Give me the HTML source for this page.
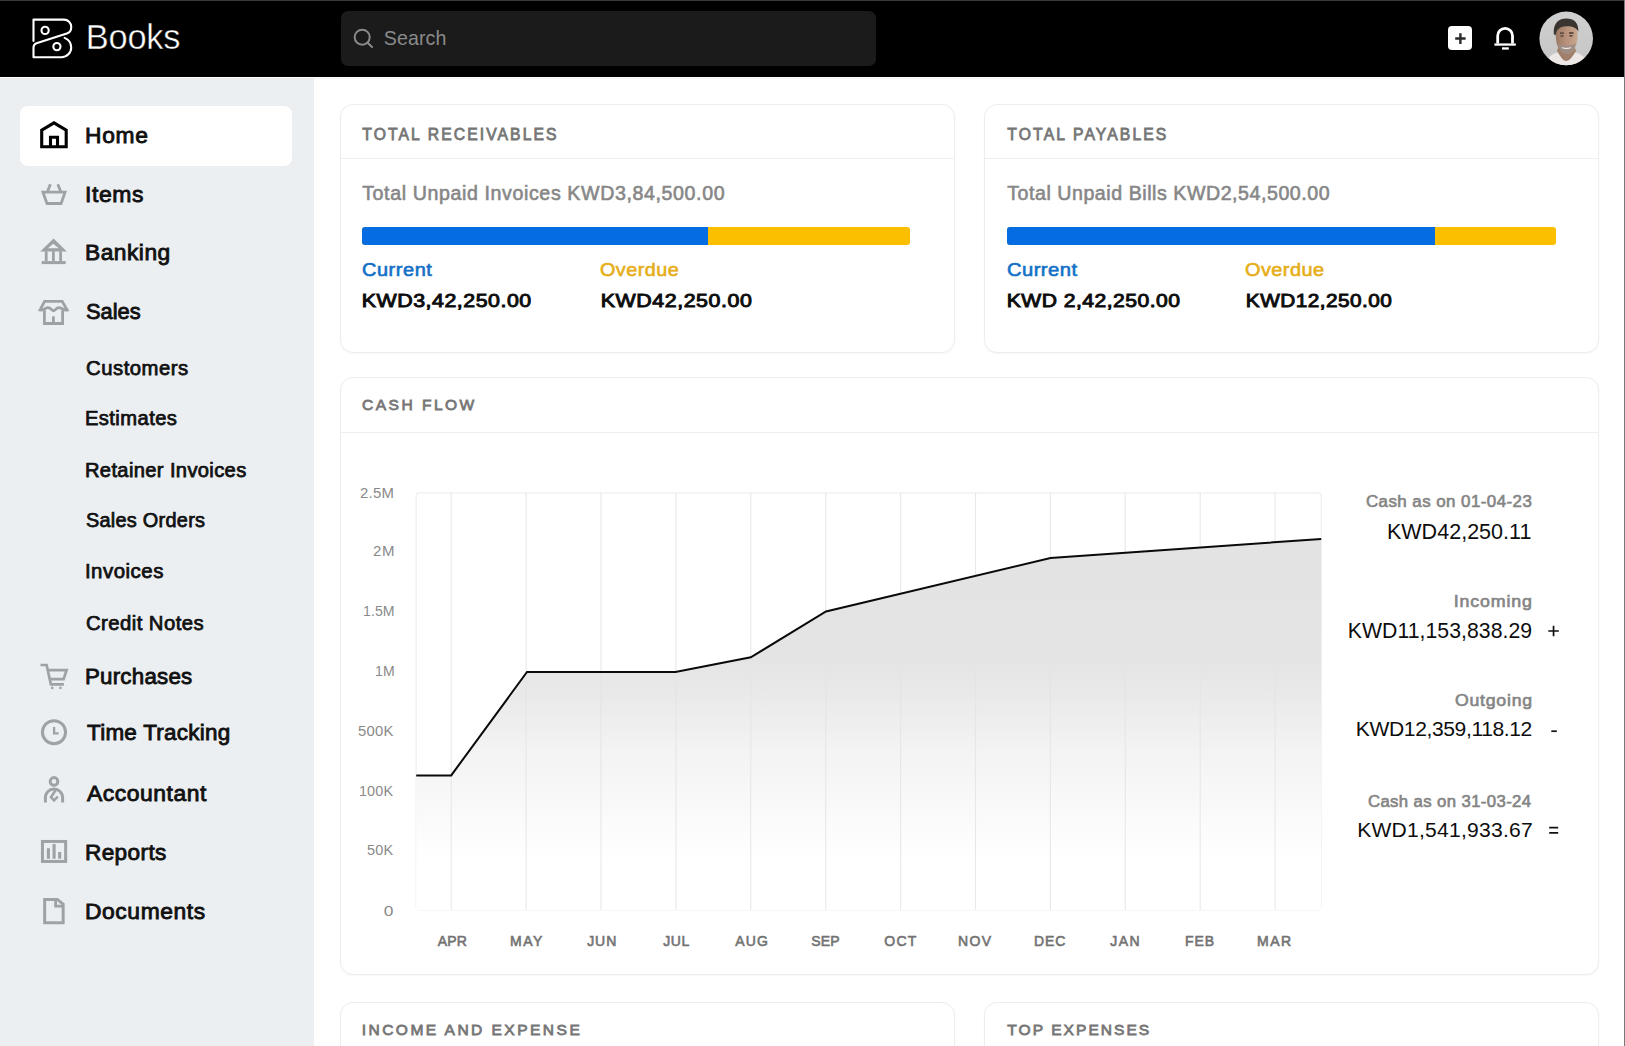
<!DOCTYPE html>
<html><head><meta charset="utf-8"><title>Books</title>
<style>
html,body{margin:0;padding:0;width:1625px;height:1046px;overflow:hidden;background:#fff}
body{position:relative;font-family:"Liberation Sans",sans-serif}
.t{position:absolute;white-space:nowrap;font-family:"Liberation Sans",sans-serif}
</style></head><body>
<div style="position:absolute;left:0px;top:0px;width:1625px;height:1046px;background:#ffffff"></div>
<div style="position:absolute;left:0px;top:77px;width:314.3px;height:969px;background:#eceff1"></div>
<div style="position:absolute;left:0px;top:77px;width:1624px;height:1px;background:#ffffff"></div>
<div style="position:absolute;left:0px;top:78px;width:314.3px;height:1px;background:#e6e8e9"></div>
<div style="position:absolute;left:314.3px;top:78px;width:1309.7px;height:1px;background:#f6f6f6"></div>
<div style="position:absolute;left:0px;top:0px;width:1625px;height:77px;background:#000"></div>
<div style="position:absolute;left:0px;top:0px;width:1625px;height:1px;background:#3a3a3a"></div>
<div style="position:absolute;left:1624px;top:0px;width:1px;height:1046px;background:#7a7a7a"></div>
<svg style="position:absolute;left:0;top:0" width="200" height="77" viewBox="0 0 200 77" fill="none" stroke="#fff" stroke-width="2.1" stroke-linecap="round" stroke-linejoin="round">
<path d="M33.5,41 V19.6 H64 A7.2,7.2 0 0 1 71.2,26.8 V27.5 A6.5,6.5 0 0 1 66.8,33.6 L36.5,43.3 A4.5,4.5 0 0 0 33.5,47.5 V57.2 H61.5 A9.7,9.7 0 0 0 71.2,47.5 A10.5,10.5 0 0 0 64.6,37.9"/>
<circle cx="45.1" cy="30.4" r="3.6"/><circle cx="56.9" cy="46.6" r="3.6"/>
</svg>
<div class="t" style="left:85.86px;top:20px;font-size:34.45px;line-height:34px;font-weight:400;color:#fff;letter-spacing:-0.279px;-webkit-text-stroke:0.45px #000;">Books</div>
<div style="position:absolute;left:340.6px;top:11px;width:535.4px;height:54.7px;background:#1b1b1b;border-radius:7px"></div>
<svg style="position:absolute;left:340px;top:11px" width="60" height="55" viewBox="340 11 60 55" fill="none" stroke="#8a8a8a" stroke-width="2" stroke-linecap="round">
<circle cx="362.2" cy="37.2" r="7.5"/><path d="M367.6,42.8 L372,47"/></svg>
<div class="t" style="left:383.72px;top:29px;font-size:19.62px;line-height:19px;font-weight:400;color:#8a8a8a;letter-spacing:0.111px;">Search</div>
<div style="position:absolute;left:1448.4px;top:26.4px;width:23.799999999999955px;height:24.0px;background:#fff;border-radius:4px"></div>
<svg style="position:absolute;left:1440px;top:18px" width="90" height="40" viewBox="1440 18 90 40" fill="none">
<path d="M1455.2,38.5 H1465.6 M1460.4,33.2 V43.9" stroke="#2a2a2a" stroke-width="2.4"/>
<path d="M1497.7,43.5 V35.8 A7.4,7.4 0 0 1 1512.5,35.8 V43.5" stroke="#fff" stroke-width="2.8"/>
<path d="M1494.4,44.55 H1515.8" stroke="#fff" stroke-width="2.3"/>
<rect x="1502" y="47.3" width="6.8" height="2.3" fill="#fff"/>
</svg>
<svg style="position:absolute;left:1539px;top:11px" width="55" height="55" viewBox="1539 11 55 55">
<defs><clipPath id="av"><circle cx="1566.2" cy="38.4" r="26.8"/></clipPath>
<linearGradient id="avbg" x1="0" y1="0" x2="0" y2="1"><stop offset="0" stop-color="#cfcfcf"/><stop offset="1" stop-color="#c6c6c6"/></linearGradient>
<linearGradient id="skin" x1="0" y1="0" x2="1" y2="0"><stop offset="0" stop-color="#9c7864"/><stop offset="0.5" stop-color="#b8927c"/><stop offset="1" stop-color="#c9a68f"/></linearGradient></defs>
<circle cx="1566.2" cy="38.4" r="26.8" fill="url(#avbg)"/>
<g clip-path="url(#av)">
<path d="M1544,68 C1546,58 1552,53 1560,52 L1573,52 C1581,53 1587,58 1589,68 Z" fill="#ede8e5"/>
<path d="M1557,51 C1560,56 1563,61 1566,61 C1569.5,61 1573,56 1576,51 L1574,45 L1559,45 Z" fill="#a0806b"/>
<path d="M1555.8,35.5 C1555.8,27 1560,23.5 1566.5,23.5 C1573,23.5 1577.6,27 1577.6,35.5 C1577.6,46 1573,53.8 1566.5,53.8 C1560,53.8 1555.8,46 1555.8,35.5 Z" fill="url(#skin)"/>
<path d="M1553.8,34 C1553,23 1559,18.6 1566.2,18.6 C1574,18.6 1579,23 1578.3,32 C1577,28.2 1573,26.3 1566.5,26.3 C1560.2,26.3 1556.5,29 1555.6,35.5 Z" fill="#3b3531"/>
<path d="M1557.5,43 C1559,50.5 1563,53.8 1566.5,53.8 C1570.3,53.8 1574.5,50.2 1576,43 C1573,46.5 1561,46.5 1557.5,43 Z" fill="#9d8d84"/>
<path d="M1560,33.2 H1564 M1569,33 H1573.5" stroke="#4a3a30" stroke-width="1.3"/>
<path d="M1560.5,36 H1563.5 M1569.5,35.8 H1572.5" stroke="#3a2a22" stroke-width="1.2"/>
<path d="M1562,47.5 C1564,48.8 1568.8,48.8 1571,47.5" stroke="#efe7e2" stroke-width="1.3" fill="none"/>
</g></svg>
<div style="position:absolute;left:20.2px;top:105.8px;width:271.8px;height:60.000000000000014px;background:#fff;border-radius:8px"></div>
<svg style="position:absolute;left:0;top:77px" width="314" height="969" viewBox="0 77 314 969" fill="none" stroke-linejoin="miter">
<path d="M41.7,146.8 V130.2 L54,122.8 L66.2,130.2 V146.8 Z M50.5,146.8 V137.3 H57.5 V146.8" stroke="#000" stroke-width="3.1"/>
<g stroke="#9ea2a6" stroke-width="2.8">
<path d="M50.4,184.2 L47.6,191.2 M57.8,184.2 L60.6,191.2 M42.9,192.1 H65.1 L61.1,203.5 H47 Z"/>
<path d="M46.2,251.3 V261 M53.4,251.3 V261 M60.6,251.3 V261"/>
</g>
<path d="M53.6,238.4 L40.2,251.5 H66.8 Z" fill="#9ea2a6"/>
<path d="M53.3,243.8 L47.9,248.3 H58.7 Z" fill="#eceff1"/>
<rect x="41.6" y="261.1" width="24.1" height="3" fill="#9ea2a6"/>
<g stroke="#9ea2a6" stroke-width="2.8">
<path d="M44.4,310.3 V323.5 H62.6 V310.3"/>
<path d="M53.4,316.3 V323"/>
<path d="M44.6,301.3 H62.2 L67.2,310 C63,310.8 62,307.6 59,307.6 C56,307.6 55,310.8 53.5,310.8 C52,310.8 51,307.6 48,307.6 C45,307.6 44,310.8 40,310 Z"/>
</g>
<g stroke="#9ea2a6" stroke-width="2.7">
<path d="M40.5,665 H46.6 L50.9,684.3 H63.9 M48.1,670.2 H66.6 L63.6,679.1 H50"/>
</g>
<circle cx="52.2" cy="687.9" r="1.3" fill="#9ea2a6"/><circle cx="60.4" cy="687.9" r="1.3" fill="#9ea2a6"/>
<circle cx="54" cy="732.2" r="11.55" stroke="#9ea2a6" stroke-width="3"/>
<path d="M54.1,727 V733.3 H58.6" stroke="#9ea2a6" stroke-width="2.3"/>
<circle cx="54" cy="781.4" r="3.8" stroke="#9ea2a6" stroke-width="3"/>
<path d="M45.4,802.6 V797.6 A8.6,8.6 0 0 1 62.6,797.6 V802.6" stroke="#9ea2a6" stroke-width="3"/>
<path d="M55.9,789.8 L51,797.2 L54,800.4 L57.8,796.6" stroke="#9ea2a6" stroke-width="2.5"/>
<rect x="42.45" y="841.45" width="23.2" height="20" stroke="#9ea2a6" stroke-width="3"/>
<path d="M48.4,848.2 V858.7 M54.1,844.1 V858.7 M59.7,851.9 V858.7" stroke="#9ea2a6" stroke-width="3.1"/>
<path d="M44.65,899.45 H57.3 L63.15,904.2 V922.65 H44.65 Z" stroke="#9ea2a6" stroke-width="3"/>
<path d="M55.6,899.5 V906.2 H63" stroke="#9ea2a6" stroke-width="2.8"/>
</svg>
<div class="t" style="left:85.22px;top:125px;font-size:21.90px;line-height:21px;font-weight:400;color:#111;letter-spacing:0.732px;-webkit-text-stroke:0.85px #111;transform:scaleX(1.0404);transform-origin:1.38px 0;">Home</div>
<div class="t" style="left:85.00px;top:184px;font-size:21.90px;line-height:21px;font-weight:400;color:#111;letter-spacing:0.596px;-webkit-text-stroke:0.85px #111;transform:scaleX(1.0484);transform-origin:1.60px 0;">Items</div>
<div class="t" style="left:85.22px;top:242px;font-size:21.90px;line-height:21px;font-weight:400;color:#111;letter-spacing:0.490px;-webkit-text-stroke:0.85px #111;transform:scaleX(1.0398);transform-origin:1.38px 0;">Banking</div>
<div class="t" style="left:86.04px;top:301px;font-size:21.90px;line-height:21px;font-weight:400;color:#111;letter-spacing:-0.013px;-webkit-text-stroke:0.85px #111;transform:scaleX(0.9990);transform-origin:0.56px 0;">Sales</div>
<div class="t" style="left:85.22px;top:666px;font-size:21.90px;line-height:21px;font-weight:400;color:#111;letter-spacing:0.230px;-webkit-text-stroke:0.85px #111;transform:scaleX(1.0184);transform-origin:1.38px 0;">Purchases</div>
<div class="t" style="left:86.53px;top:722px;font-size:21.90px;line-height:21px;font-weight:400;color:#111;letter-spacing:0.267px;-webkit-text-stroke:0.85px #111;transform:scaleX(1.0242);transform-origin:0.07px 0;">Time Tracking</div>
<div class="t" style="left:86.97px;top:783px;font-size:21.90px;line-height:21px;font-weight:400;color:#111;letter-spacing:0.527px;-webkit-text-stroke:0.85px #111;transform:scaleX(1.0450);transform-origin:-0.37px 0;">Accountant</div>
<div class="t" style="left:85.22px;top:842px;font-size:21.90px;line-height:21px;font-weight:400;color:#111;letter-spacing:0.381px;-webkit-text-stroke:0.85px #111;transform:scaleX(1.0315);transform-origin:1.38px 0;">Reports</div>
<div class="t" style="left:85.22px;top:901px;font-size:21.90px;line-height:21px;font-weight:400;color:#111;letter-spacing:0.567px;-webkit-text-stroke:0.85px #111;transform:scaleX(1.0434);transform-origin:1.38px 0;">Documents</div>
<div class="t" style="left:86.00px;top:359px;font-size:19.40px;line-height:19px;font-weight:400;color:#111;letter-spacing:0.508px;-webkit-text-stroke:0.75px #111;transform:scaleX(1.0457);transform-origin:0.59px 0;">Customers</div>
<div class="t" style="left:85.37px;top:409px;font-size:19.40px;line-height:19px;font-weight:400;color:#111;letter-spacing:0.406px;-webkit-text-stroke:0.75px #111;transform:scaleX(1.0404);transform-origin:1.23px 0;">Estimates</div>
<div class="t" style="left:85.37px;top:461px;font-size:19.40px;line-height:19px;font-weight:400;color:#111;letter-spacing:0.344px;-webkit-text-stroke:0.75px #111;transform:scaleX(1.0385);transform-origin:1.23px 0;">Retainer Invoices</div>
<div class="t" style="left:86.10px;top:511px;font-size:19.40px;line-height:19px;font-weight:400;color:#111;letter-spacing:0.257px;-webkit-text-stroke:0.75px #111;transform:scaleX(1.0258);transform-origin:0.50px 0;">Sales Orders</div>
<div class="t" style="left:85.18px;top:562px;font-size:19.40px;line-height:19px;font-weight:400;color:#111;letter-spacing:0.487px;-webkit-text-stroke:0.75px #111;transform:scaleX(1.0517);transform-origin:1.42px 0;">Invoices</div>
<div class="t" style="left:86.00px;top:614px;font-size:19.40px;line-height:19px;font-weight:400;color:#111;letter-spacing:0.429px;-webkit-text-stroke:0.75px #111;transform:scaleX(1.0462);transform-origin:0.59px 0;">Credit Notes</div>
<div style="position:absolute;left:340px;top:104px;width:615px;height:249px;background:#fff;border:1px solid #ededed;border-radius:13px;box-sizing:border-box;box-shadow:0 1px 2.5px rgba(0,0,0,0.035)"></div>
<div style="position:absolute;left:341px;top:157.6px;width:613px;height:1.3000000000000114px;background:#efefef"></div>
<div style="position:absolute;left:984.2px;top:104px;width:614.8px;height:249px;background:#fff;border:1px solid #ededed;border-radius:13px;box-sizing:border-box;box-shadow:0 1px 2.5px rgba(0,0,0,0.035)"></div>
<div style="position:absolute;left:985.2px;top:157.6px;width:612.8px;height:1.3000000000000114px;background:#efefef"></div>
<div class="t" style="left:362.35px;top:127px;font-size:15.70px;line-height:15px;font-weight:400;color:#767676;letter-spacing:2.090px;-webkit-text-stroke:0.8px #767676;">TOTAL RECEIVABLES</div>
<div class="t" style="left:1007.35px;top:127px;font-size:15.70px;line-height:15px;font-weight:400;color:#767676;letter-spacing:2.122px;-webkit-text-stroke:0.8px #767676;">TOTAL PAYABLES</div>
<div class="t" style="left:362.16px;top:184px;font-size:19.60px;line-height:19px;font-weight:400;color:#878787;letter-spacing:0.614px;-webkit-text-stroke:0.6px #878787;">Total Unpaid Invoices KWD3,84,500.00</div>
<div class="t" style="left:1007.16px;top:184px;font-size:19.60px;line-height:19px;font-weight:400;color:#878787;letter-spacing:0.548px;-webkit-text-stroke:0.6px #878787;">Total Unpaid Bills KWD2,54,500.00</div>
<div style="position:absolute;left:362px;top:226.5px;width:548.4px;height:18.19999999999999px;background:#fbbf00;border-radius:3px"></div>
<div style="position:absolute;left:362px;top:226.5px;width:346.4px;height:18.19999999999999px;background:#066ce2;border-radius:3px 0 0 3px"></div>
<div style="position:absolute;left:1007.3px;top:226.5px;width:548.4000000000001px;height:18.19999999999999px;background:#fbbf00;border-radius:3px"></div>
<div style="position:absolute;left:1007.3px;top:226.5px;width:427.5px;height:18.19999999999999px;background:#066ce2;border-radius:3px 0 0 3px"></div>
<div class="t" style="left:361.73px;top:262px;font-size:17.44px;line-height:17px;font-weight:400;color:#1370c6;letter-spacing:0.514px;-webkit-text-stroke:0.6px #1370c6;transform:scaleX(1.1422);transform-origin:0.57px 0;">Current</div>
<div class="t" style="left:600.15px;top:262px;font-size:17.88px;line-height:17px;font-weight:400;color:#e6ae19;letter-spacing:0.463px;-webkit-text-stroke:0.6px #e6ae19;transform:scaleX(1.1062);transform-origin:0.55px 0;">Overdue</div>
<div class="t" style="left:1006.69px;top:261px;font-size:18.17px;line-height:18px;font-weight:400;color:#1370c6;letter-spacing:0.430px;-webkit-text-stroke:0.6px #1370c6;transform:scaleX(1.1112);transform-origin:0.61px 0;">Current</div>
<div class="t" style="left:1245.04px;top:261px;font-size:18.17px;line-height:18px;font-weight:400;color:#e6ae19;letter-spacing:0.427px;-webkit-text-stroke:0.6px #e6ae19;transform:scaleX(1.0954);transform-origin:0.56px 0;">Overdue</div>
<div class="t" style="left:362.00px;top:293px;font-size:17.60px;line-height:17px;font-weight:400;color:#0c0c0c;letter-spacing:0.447px;-webkit-text-stroke:0.9px #0c0c0c;transform:scaleX(1.2120);transform-origin:1.00px 0;">KWD3,42,250.00</div>
<div class="t" style="left:601.20px;top:293px;font-size:17.60px;line-height:17px;font-weight:400;color:#0c0c0c;letter-spacing:0.471px;-webkit-text-stroke:0.9px #0c0c0c;transform:scaleX(1.2126);transform-origin:1.00px 0;">KWD42,250.00</div>
<div class="t" style="left:1006.80px;top:293px;font-size:17.60px;line-height:17px;font-weight:400;color:#0c0c0c;letter-spacing:0.407px;-webkit-text-stroke:0.9px #0c0c0c;transform:scaleX(1.1981);transform-origin:1.00px 0;">KWD 2,42,250.00</div>
<div class="t" style="left:1246.30px;top:293px;font-size:17.60px;line-height:17px;font-weight:400;color:#0c0c0c;letter-spacing:0.407px;-webkit-text-stroke:0.9px #0c0c0c;transform:scaleX(1.1787);transform-origin:1.00px 0;">KWD12,250.00</div>
<div style="position:absolute;left:340px;top:377px;width:1259px;height:598px;background:#fff;border:1px solid #ededed;border-radius:13px;box-sizing:border-box;box-shadow:0 1px 2.5px rgba(0,0,0,0.035)"></div>
<div style="position:absolute;left:341px;top:431.5px;width:1257px;height:1.3000000000000114px;background:#efefef"></div>
<div class="t" style="left:362.02px;top:397px;font-size:15.55px;line-height:15px;font-weight:400;color:#767676;letter-spacing:2.475px;-webkit-text-stroke:0.8px #767676;">CASH FLOW</div>
<svg style="position:absolute;left:0;top:0" width="1625" height="1046" viewBox="0 0 1625 1046" fill="none">
<defs><linearGradient id="gf" x1="0" y1="538.9" x2="0" y2="909.9" gradientUnits="userSpaceOnUse">
<stop offset="0" stop-color="#e3e3e3"/><stop offset="0.32" stop-color="#e4e4e4"/><stop offset="0.43" stop-color="#eaeaea"/><stop offset="0.57" stop-color="#f3f3f3"/><stop offset="0.77" stop-color="#fbfbfb"/><stop offset="0.87" stop-color="#ffffff"/></linearGradient></defs>
<rect x="416.2" y="492.8" width="905.0" height="417.09999999999997" rx="3" stroke="#f0f0f0" stroke-width="1.3"/>
<path d="M416.2,775.4 L451.2,775.4 L527.0,672.0 L675.4,672.0 L750.8,657.3 L826.0,611.5 L1050.5,558.1 L1321.2,538.9 L1321.2,909.9 L416.2,909.9 Z" fill="url(#gf)"/>
<g stroke="#e4e4e4" stroke-width="1.1" opacity="0.8"><path d="M451.2,492.8 V909.9"/><path d="M526.1,492.8 V909.9"/><path d="M601.0,492.8 V909.9"/><path d="M675.9,492.8 V909.9"/><path d="M750.8,492.8 V909.9"/><path d="M825.7,492.8 V909.9"/><path d="M900.6,492.8 V909.9"/><path d="M975.5,492.8 V909.9"/><path d="M1050.4,492.8 V909.9"/><path d="M1125.3,492.8 V909.9"/><path d="M1200.2,492.8 V909.9"/><path d="M1275.1,492.8 V909.9"/></g>
<path d="M416.2,775.4 L451.2,775.4 L527.0,672.0 L675.4,672.0 L750.8,657.3 L826.0,611.5 L1050.5,558.1 L1321.2,538.9" stroke="#0a0a0a" stroke-width="2" stroke-linejoin="miter"/>
</svg>
<div class="t" style="left:360.31px;top:487px;font-size:13.90px;line-height:13px;font-weight:400;color:#8a8a8a;letter-spacing:0.284px;transform:scaleX(1.0735);transform-origin:0.70px 0;">2.5M</div>
<div class="t" style="left:372.91px;top:545px;font-size:13.90px;line-height:13px;font-weight:400;color:#8a8a8a;letter-spacing:0.570px;transform:scaleX(1.0825);transform-origin:0.70px 0;">2M</div>
<div class="t" style="left:362.66px;top:605px;font-size:13.90px;line-height:13px;font-weight:400;color:#8a8a8a;letter-spacing:0.068px;transform:scaleX(1.0170);transform-origin:1.04px 0;">1.5M</div>
<div class="t" style="left:374.66px;top:665px;font-size:13.90px;line-height:13px;font-weight:400;color:#8a8a8a;letter-spacing:0.090px;transform:scaleX(1.0124);transform-origin:1.04px 0;">1M</div>
<div class="t" style="left:357.84px;top:725px;font-size:13.90px;line-height:13px;font-weight:400;color:#8a8a8a;letter-spacing:0.279px;transform:scaleX(1.0656);transform-origin:0.56px 0;">500K</div>
<div class="t" style="left:359.26px;top:785px;font-size:13.90px;line-height:13px;font-weight:400;color:#8a8a8a;letter-spacing:0.151px;transform:scaleX(1.0349);transform-origin:1.04px 0;">100K</div>
<div class="t" style="left:367.04px;top:844px;font-size:13.90px;line-height:13px;font-weight:400;color:#8a8a8a;letter-spacing:0.214px;transform:scaleX(1.0434);transform-origin:0.56px 0;">50K</div>
<div class="t" style="left:383.54px;top:905px;font-size:13.90px;line-height:13px;font-weight:400;color:#8a8a8a;letter-spacing:0.000px;transform:scaleX(1.2492);transform-origin:0.56px 0;">0</div>
<div class="t" style="left:437.76px;top:934px;font-size:14.00px;line-height:14px;font-weight:400;color:#737373;letter-spacing:0.198px;-webkit-text-stroke:0.6px #737373;">APR</div>
<div class="t" style="left:510.04px;top:934px;font-size:14.00px;line-height:14px;font-weight:400;color:#737373;letter-spacing:1.538px;-webkit-text-stroke:0.6px #737373;">MAY</div>
<div class="t" style="left:587.19px;top:934px;font-size:14.00px;line-height:14px;font-weight:400;color:#737373;letter-spacing:0.917px;-webkit-text-stroke:0.6px #737373;">JUN</div>
<div class="t" style="left:663.19px;top:934px;font-size:14.00px;line-height:14px;font-weight:400;color:#737373;letter-spacing:0.540px;-webkit-text-stroke:0.6px #737373;">JUL</div>
<div class="t" style="left:735.37px;top:934px;font-size:14.00px;line-height:14px;font-weight:400;color:#737373;letter-spacing:1.120px;-webkit-text-stroke:0.6px #737373;">AUG</div>
<div class="t" style="left:811.17px;top:934px;font-size:14.00px;line-height:14px;font-weight:400;color:#737373;letter-spacing:0.215px;-webkit-text-stroke:0.6px #737373;">SEP</div>
<div class="t" style="left:884.24px;top:934px;font-size:14.00px;line-height:14px;font-weight:400;color:#737373;letter-spacing:1.270px;-webkit-text-stroke:0.6px #737373;">OCT</div>
<div class="t" style="left:957.94px;top:934px;font-size:14.00px;line-height:14px;font-weight:400;color:#737373;letter-spacing:1.440px;-webkit-text-stroke:0.6px #737373;">NOV</div>
<div class="t" style="left:1033.94px;top:934px;font-size:14.00px;line-height:14px;font-weight:400;color:#737373;letter-spacing:0.953px;-webkit-text-stroke:0.6px #737373;">DEC</div>
<div class="t" style="left:1110.19px;top:934px;font-size:14.00px;line-height:14px;font-weight:400;color:#737373;letter-spacing:1.453px;-webkit-text-stroke:0.6px #737373;">JAN</div>
<div class="t" style="left:1185.05px;top:934px;font-size:14.00px;line-height:14px;font-weight:400;color:#737373;letter-spacing:0.880px;-webkit-text-stroke:0.6px #737373;">FEB</div>
<div class="t" style="left:1257.05px;top:934px;font-size:14.00px;line-height:14px;font-weight:400;color:#737373;letter-spacing:1.452px;-webkit-text-stroke:0.6px #737373;">MAR</div>
<div class="t" style="left:1365.82px;top:494px;font-size:15.60px;line-height:15px;font-weight:400;color:#858585;letter-spacing:0.414px;-webkit-text-stroke:0.6px #858585;transform:scaleX(1.0836);transform-origin:0.48px 0;">Cash as on 01-04-23</div>
<div class="t" style="left:1386.93px;top:522px;font-size:21.51px;line-height:21px;font-weight:400;color:#0d0d0d;letter-spacing:0.028px;">KWD42,250.11</div>
<div class="t" style="left:1453.86px;top:594px;font-size:15.60px;line-height:15px;font-weight:400;color:#858585;letter-spacing:0.722px;-webkit-text-stroke:0.6px #858585;transform:scaleX(1.1407);transform-origin:1.14px 0;">Incoming</div>
<div class="t" style="left:1347.75px;top:620px;font-size:21.22px;line-height:21px;font-weight:400;color:#0d0d0d;letter-spacing:0.053px;">KWD11,153,838.29</div>
<div class="t" style="left:1454.56px;top:693px;font-size:15.60px;line-height:15px;font-weight:400;color:#858585;letter-spacing:0.692px;-webkit-text-stroke:0.6px #858585;transform:scaleX(1.1324);transform-origin:0.44px 0;">Outgoing</div>
<div class="t" style="left:1355.86px;top:718px;font-size:21.08px;line-height:21px;font-weight:400;color:#0d0d0d;letter-spacing:-0.398px;">KWD12,359,118.12</div>
<div class="t" style="left:1367.52px;top:794px;font-size:15.60px;line-height:15px;font-weight:400;color:#858585;letter-spacing:0.362px;-webkit-text-stroke:0.6px #858585;transform:scaleX(1.0722);transform-origin:0.48px 0;">Cash as on 31-03-24</div>
<div class="t" style="left:1357.16px;top:819px;font-size:21.08px;line-height:21px;font-weight:400;color:#0d0d0d;letter-spacing:0.236px;">KWD1,541,933.67</div>
<svg style="position:absolute;left:1540px;top:620px" width="30" height="220" viewBox="1540 620 30 220" stroke="#111" stroke-width="1.7" fill="none">
<path d="M1548.3,631 H1558.8 M1553.55,625.8 V636.2"/>
<path d="M1551.3,731.2 H1556.8"/>
<path d="M1549.2,827.6 H1558.2 M1549.2,832.8 H1558.2"/>
</svg>
<div style="position:absolute;left:340px;top:1001.6px;width:615px;height:98.39999999999998px;background:#fff;border:1px solid #ededed;border-radius:13px;box-sizing:border-box;box-shadow:0 1px 2.5px rgba(0,0,0,0.035)"></div>
<div style="position:absolute;left:341px;top:1056px;width:613px;height:1.2999999999999545px;background:#efefef"></div>
<div style="position:absolute;left:984.2px;top:1001.6px;width:614.8px;height:98.39999999999998px;background:#fff;border:1px solid #ededed;border-radius:13px;box-sizing:border-box;box-shadow:0 1px 2.5px rgba(0,0,0,0.035)"></div>
<div style="position:absolute;left:985.2px;top:1056px;width:612.8px;height:1.2999999999999545px;background:#efefef"></div>
<div class="t" style="left:361.66px;top:1022px;font-size:15.55px;line-height:15px;font-weight:400;color:#767676;letter-spacing:2.463px;-webkit-text-stroke:0.8px #767676;">INCOME AND EXPENSE</div>
<div class="t" style="left:1007.35px;top:1022px;font-size:15.55px;line-height:15px;font-weight:400;color:#767676;letter-spacing:2.032px;-webkit-text-stroke:0.8px #767676;">TOP EXPENSES</div>
</body></html>
